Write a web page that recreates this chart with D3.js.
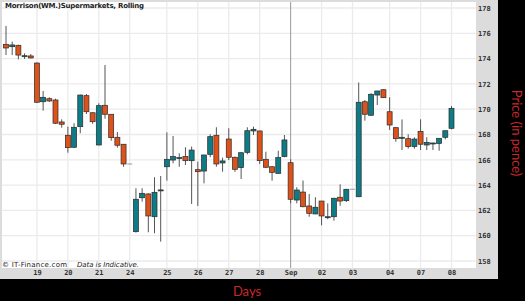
<!DOCTYPE html>
<html>
<head>
<meta charset="utf-8">
<script src="https://cdn.jsdelivr.net/npm/d3@7"></script>
<style>
  html, body { margin: 0; padding: 0; background: #000; }
  svg { display: block; }
</style>
</head>
<body>
<script>
// Morrison (WM.) Supermarkets, rolling candles (pence)

var dayLabels = ["18", "19", "20", "21", "24", "25", "26", "27", "28", "Sep", "02", "03", "04", "07", "08"];
var candlesPerDay = [5, 5, 5, 5, 6, 5, 5, 5, 5, 5, 5, 6, 5, 5, 1];
var priceTicks = [158, 160, 162, 164, 166, 168, 170, 172, 174, 176, 178];

var open = [175.13, 174.94, 175.05, 174.23, 174.21, 173.65, 170.59, 170.83, 170.73, 168.99,
            167.94, 166.99, 168.62, 171.07, 169.72, 167.17, 170.31, 169.60, 167.78, 167.23,
            165.67, 160.32, 163.00, 163.30, 161.50, 163.55, 165.45, 165.98, 166.17, 166.25,
            165.93, 165.22, 165.11, 166.43, 167.94, 165.75, 167.64, 166.20, 165.38, 166.59,
            168.28, 168.28, 166.04, 165.45, 164.93, 166.25, 165.77, 162.82, 163.45, 162.35,
            161.72, 162.74, 161.50, 161.50, 163.04, 162.77, 163.67, 163.08, 170.59, 169.52,
            171.12, 171.54, 169.80, 168.54, 167.78, 167.67, 167.04, 168.25, 167.17, 167.33,
            167.30, 167.78, 168.49];
var high = [176.58, 175.34, 175.10, 174.42, 174.36, 173.70, 171.44, 170.94, 170.83, 169.20,
            168.62, 168.89, 171.15, 171.20, 169.75, 170.47, 173.49, 169.60, 168.20, 167.25,
            165.67, 163.75, 163.75, 163.35, 164.62, 164.72, 168.17, 167.88, 166.51, 166.99,
            167.04, 165.85, 166.40, 168.02, 168.57, 166.17, 168.49, 166.25, 166.60, 168.57,
            168.62, 168.30, 166.64, 165.50, 166.72, 167.96, 166.04, 163.83, 164.36, 163.30,
            163.04, 162.75, 162.56, 163.00, 164.06, 163.70, 163.67, 172.11, 170.73, 171.26,
            171.45, 171.57, 170.94, 168.55, 169.19, 168.02, 167.78, 169.20, 167.78, 167.35,
            167.70, 168.30, 170.25];
var low = [174.28, 174.28, 173.94, 173.97, 174.02, 170.50, 169.88, 170.57, 168.83, 168.54,
           166.56, 166.95, 168.10, 169.62, 168.85, 167.15, 169.25, 167.51, 166.96, 165.45,
           165.67, 160.24, 162.69, 160.27, 160.19, 159.53, 164.35, 165.72, 165.45, 165.59,
           162.51, 162.35, 164.14, 166.20, 165.45, 165.06, 165.98, 165.05, 164.48, 166.43,
           167.96, 165.67, 165.35, 164.35, 164.90, 166.20, 162.56, 162.56, 162.25, 161.50,
           161.70, 160.82, 161.30, 161.19, 162.37, 162.66, 163.67, 163.05, 169.09, 169.50,
           170.33, 170.90, 168.36, 167.43, 166.77, 166.88, 166.88, 166.77, 166.77, 166.77,
           166.72, 167.62, 168.41];
var close = [174.84, 175.08, 174.28, 174.23, 174.05, 170.55, 170.94, 170.65, 168.89, 168.81,
             166.96, 168.57, 171.12, 169.80, 169.01, 170.28, 169.60, 167.75, 167.15, 165.67,
             165.67, 162.88, 163.35, 161.56, 163.43, 163.62, 166.04, 166.25, 166.17, 165.93,
             166.77, 165.06, 166.38, 167.83, 165.67, 165.91, 166.20, 165.25, 166.56, 168.30,
             168.41, 165.93, 165.41, 165.01, 166.17, 167.57, 162.88, 163.61, 162.29, 161.77,
             162.25, 161.56, 161.50, 162.96, 162.74, 163.67, 163.67, 170.55, 169.60, 171.18,
             171.44, 170.91, 168.75, 167.67, 167.78, 167.04, 167.64, 167.23, 167.38, 167.33,
             167.70, 168.30, 170.07];

var W = 525, H = 301;
var panelRight = 498, panelBottom = 279;
var plot = {left: 2, top: 2, right: 476, bottom: 268};

// build candle list
var candles = [];
var dayStarts = [];
var k = 0;
candlesPerDay.forEach(function(n, d) {
  dayStarts.push({label: dayLabels[d], index: k});
  for (var j = 0; j < n; j++) {
    candles.push({i: k, day: dayLabels[d], o: open[k], h: high[k], l: low[k], c: close[k]});
    k++;
  }
});
var labelled = dayStarts.slice(1);

var x = d3.scaleLinear().domain([0, candles.length - 1]).range([6, 451.5]);
var y = d3.scaleLinear().domain([158, 178]).range([261, 8]);

var svg = d3.select("body").append("svg")
    .attr("width", W)
    .attr("height", H);

svg.append("rect").attr("width", W).attr("height", H).attr("fill", "#000");
svg.append("rect").attr("width", panelRight).attr("height", panelBottom).attr("fill", "#dcdcdc");
svg.append("rect")
    .attr("x", plot.left).attr("y", plot.top)
    .attr("width", plot.right - plot.left).attr("height", plot.bottom - plot.top)
    .attr("fill", "#fff");

// grid
var grid = svg.append("g");
grid.selectAll(".hg")
    .data(priceTicks)
    .enter().append("line")
    .attr("x1", plot.left).attr("x2", plot.right)
    .attr("y1", function(d) { return y(d); })
    .attr("y2", function(d) { return y(d); })
    .attr("stroke", "#ebebeb").attr("stroke-width", 1.3);
grid.selectAll(".vg")
    .data(labelled)
    .enter().append("line")
    .attr("x1", function(d) { return x(d.index); })
    .attr("x2", function(d) { return x(d.index); })
    .attr("y1", plot.top).attr("y2", plot.bottom)
    .attr("stroke", function(d) { return d.label == "Sep" ? "#9a9a9a" : "#ebebeb"; })
    .attr("stroke-width", function(d) { return d.label == "Sep" ? 1 : 1.3; });

// candles
var up = "#0e7c86", down = "#de5219";
var cg = svg.append("g").selectAll("g")
    .data(candles)
    .enter().append("g");

cg.filter(function(d) { return d.h != d.l; })
    .append("line")
    .attr("x1", function(d) { return x(d.i); })
    .attr("x2", function(d) { return x(d.i); })
    .attr("y1", function(d) { return y(d.h); })
    .attr("y2", function(d) { return y(d.l); })
    .attr("stroke", "#555").attr("stroke-width", 1);

cg.filter(function(d) { return d.h != d.l; })
    .append("rect")
    .attr("x", function(d) { return x(d.i) - 2.5; })
    .attr("width", 5)
    .attr("y", function(d) { return y(Math.max(d.o, d.c)); })
    .attr("height", function(d) { return Math.max(1, Math.abs(y(d.o) - y(d.c))); })
    .attr("fill", function(d) { return d.c >= d.o ? up : down; })
    .attr("stroke", "#2a2a2a").attr("stroke-width", 0.7);

// flat candles (no range)
cg.filter(function(d) { return d.h == d.l; })
    .append("line")
    .attr("x1", function(d) { return x(d.i) - 2.5; })
    .attr("x2", function(d) { return x(d.i) + 2.5; })
    .attr("y1", function(d) { return y(d.c); })
    .attr("y2", function(d) { return y(d.c); })
    .attr("stroke", "#999").attr("stroke-width", 1);

// axes
var yAxis = d3.axisRight(y).tickValues(priceTicks).tickSize(0).tickPadding(0);
var ya = svg.append("g")
    .attr("transform", "translate(478,0)")
    .call(yAxis);
ya.select(".domain").remove();
ya.selectAll("text")
    .attr("font-family", "DejaVu Sans Mono, monospace")
    .attr("font-weight", "bold")
    .attr("font-size", "7px")
    .attr("fill", "#333");

var xAxis = d3.axisBottom(d3.scaleOrdinal()
        .domain(labelled.map(function(d) { return d.label; }))
        .range(labelled.map(function(d) { return x(d.index); })))
    .tickSize(0).tickPadding(0);
var xa = svg.append("g")
    .attr("transform", "translate(0,270)")
    .call(xAxis);
xa.select(".domain").remove();
xa.selectAll("text")
    .attr("font-family", "DejaVu Sans Mono, monospace")
    .attr("font-weight", "bold")
    .attr("font-size", "7px")
    .attr("fill", "#333");

// title + notes
svg.append("text")
    .attr("x", 5).attr("y", 7.5)
    .attr("font-family", "DejaVu Sans, sans-serif")
    .attr("font-weight", "bold")
    .attr("font-size", "7px")
    .attr("fill", "#222")
    .attr("textLength", 139)
    .text("Morrison(WM.)Supermarkets, Rolling");

svg.append("text")
    .attr("x", 2).attr("y", 267)
    .attr("font-family", "DejaVu Sans, sans-serif")
    .attr("font-size", "7px")
    .attr("fill", "#222")
    .attr("textLength", 65)
    .text("\u00a9 IT-Finance.com");
svg.append("text")
    .attr("x", 77).attr("y", 267)
    .attr("font-family", "DejaVu Sans, sans-serif")
    .attr("font-style", "italic")
    .attr("font-size", "7px")
    .attr("fill", "#222")
    .attr("textLength", 62)
    .text("Data is Indicative.");

// axis titles
svg.append("text")
    .attr("transform", "translate(512,133) rotate(90)")
    .attr("text-anchor", "middle")
    .attr("font-family", "Lato, sans-serif")
    .attr("font-size", "13px")
    .attr("fill", "#c8282a")
    .text("Price (in pence)");

svg.append("text")
    .attr("x", 247).attr("y", 296)
    .attr("text-anchor", "middle")
    .attr("font-family", "Lato, sans-serif")
    .attr("font-size", "13px")
    .attr("fill", "#c8282a")
    .text("Days");
</script>
</body>
</html>
